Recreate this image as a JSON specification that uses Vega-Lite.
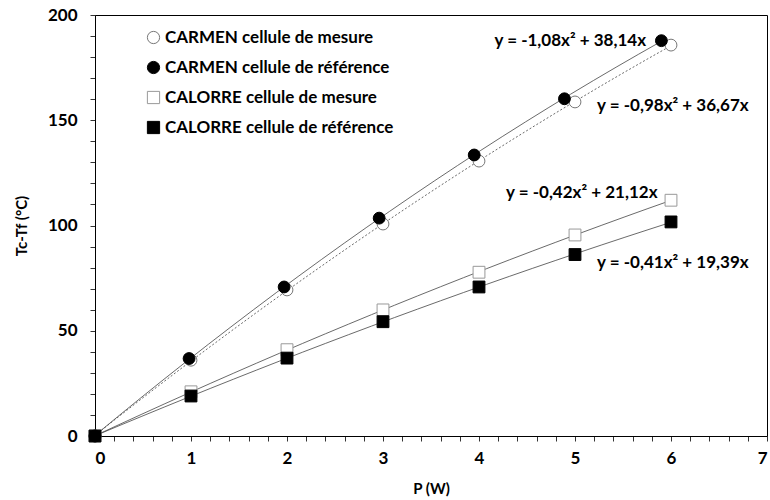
{
  "$schema": "https://vega.github.io/schema/vega-lite/v6.json",
  "width": 672,
  "height": 421,
  "autosize": "none",
  "padding": {"left": 95, "top": 15, "right": 3, "bottom": 64},
  "config": {
    "font": "Lato",
    "view": {"stroke": "black", "strokeWidth": 1},
    "axis": {
      "labelFont": "Lato", "labelFontWeight": "bold", "labelFontSize": 17, "labelColor": "black",
      "titleFont": "Lato", "titleFontWeight": "bold", "titleFontSize": 15, "titleColor": "black",
      "domainColor": "black", "tickColor": "#333", "grid": false, "labelOverlap": false
    },
    "legend": {
      "labelFont": "Lato", "labelFontWeight": "bold", "labelFontSize": 17, "labelColor": "black", "labelLimit": 400
    }
  },
  "datasets": {
    "pts": [
      {"P": 0, "T": 0, "series": "CARMEN cellule de mesure"},
      {"P": 1, "T": 36, "series": "CARMEN cellule de mesure"},
      {"P": 2, "T": 69.4, "series": "CARMEN cellule de mesure"},
      {"P": 3, "T": 100.7, "series": "CARMEN cellule de mesure"},
      {"P": 4, "T": 130.6, "series": "CARMEN cellule de mesure"},
      {"P": 5, "T": 158.7, "series": "CARMEN cellule de mesure"},
      {"P": 6, "T": 185.7, "series": "CARMEN cellule de mesure"},
      {"P": 0, "T": 0, "series": "CALORRE cellule de mesure"},
      {"P": 1, "T": 21, "series": "CALORRE cellule de mesure"},
      {"P": 2, "T": 41, "series": "CALORRE cellule de mesure"},
      {"P": 3, "T": 59.9, "series": "CALORRE cellule de mesure"},
      {"P": 4, "T": 77.8, "series": "CALORRE cellule de mesure"},
      {"P": 5, "T": 95.5, "series": "CALORRE cellule de mesure"},
      {"P": 6, "T": 112, "series": "CALORRE cellule de mesure"},
      {"P": 0, "T": 0, "series": "CALORRE cellule de référence"},
      {"P": 1, "T": 19, "series": "CALORRE cellule de référence"},
      {"P": 2, "T": 37, "series": "CALORRE cellule de référence"},
      {"P": 3, "T": 54.3, "series": "CALORRE cellule de référence"},
      {"P": 4, "T": 70.8, "series": "CALORRE cellule de référence"},
      {"P": 5, "T": 86.2, "series": "CALORRE cellule de référence"},
      {"P": 6, "T": 101.7, "series": "CALORRE cellule de référence"},
      {"P": 0, "T": 0, "series": "CARMEN cellule de référence"},
      {"P": 0.98, "T": 36.8, "series": "CARMEN cellule de référence"},
      {"P": 1.97, "T": 70.8, "series": "CARMEN cellule de référence"},
      {"P": 2.96, "T": 103.5, "series": "CARMEN cellule de référence"},
      {"P": 3.95, "T": 133.5, "series": "CARMEN cellule de référence"},
      {"P": 4.89, "T": 160.2, "series": "CARMEN cellule de référence"},
      {"P": 5.9, "T": 187.8, "series": "CARMEN cellule de référence"}
    ],
    "eqRight": [
      {"P": 5.74, "T": 187.6, "label": "y = -1,08x² + 38,14x"},
      {"P": 5.86, "T": 115.4, "label": "y = -0,42x² + 21,12x"}
    ],
    "eqLeft": [
      {"P": 5.23, "T": 156.8, "label": "y = -0,98x² + 36,67x"},
      {"P": 5.23, "T": 82.2, "label": "y = -0,41x² + 19,39x"}
    ]
  },
  "encoding": {
    "x": {
      "field": "P", "type": "quantitative",
      "scale": {"domain": [0, 7], "nice": false},
      "axis": {
        "title": "P (W)",
        "values": [0,0.2,0.4,0.6,0.8,1,1.2,1.4,1.6,1.8,2,2.2,2.4,2.6,2.8,3,3.2,3.4,3.6,3.8,4,4.2,4.4,4.6,4.8,5,5.2,5.4,5.6,5.8,6,6.2,6.4,6.6,6.8,7],
        "labelExpr": "datum.value % 1 === 0 ? format(datum.value, 'd') : ''",
        "labelOverlap": false,
        "labelBound": false,
        "tickSize": 5, "labelPadding": 9, "titlePadding": 15
      }
    },
    "y": {
      "field": "T", "type": "quantitative",
      "scale": {"domain": [0, 200], "nice": false},
      "axis": {
        "title": "Tc-Tf (°C)",
        "values": [0,10,20,30,40,50,60,70,80,90,100,110,120,130,140,150,160,170,180,190,200],
        "labelExpr": "datum.value % 50 === 0 ? format(datum.value, 'd') : ''",
        "labelOverlap": false,
        "labelBound": false,
        "tickSize": 5, "labelPadding": 13, "titlePadding": 18
      }
    }
  },
  "layer": [
    {
      "data": {"name": "pts"},
      "transform": [
        {"filter": "datum.series !== 'CARMEN cellule de mesure'"},
        {"regression": "T", "on": "P", "groupby": ["series"], "method": "poly", "order": 2}
      ],
      "mark": {"type": "line", "strokeWidth": 0.8, "color": "#444"},
      "encoding": {
        "detail": {"field": "series"}
      }
    },
    {
      "data": {"name": "pts"},
      "transform": [
        {"filter": "datum.series === 'CARMEN cellule de mesure'"},
        {"regression": "T", "on": "P", "method": "poly", "order": 2}
      ],
      "mark": {"type": "line", "strokeWidth": 0.8, "color": "#444", "strokeDash": [2, 2]},
      "encoding": {}
    },
    {
      "data": {"name": "pts"},
      "mark": {"type": "point", "filled": true, "size": 140, "strokeWidth": 1, "opacity": 1},
      "encoding": {
        "shape": {
          "field": "series", "type": "nominal", "title": null,
          "scale": {
            "domain": ["CARMEN cellule de mesure", "CARMEN cellule de référence", "CALORRE cellule de mesure", "CALORRE cellule de référence"],
            "range": ["circle", "circle", "square", "square"]
          },
          "legend": {"orient": "none", "legendX": 50, "legendY": 14, "rowPadding": 12, "symbolStrokeWidth": 1, "symbolSize": 150, "labelOffset": 3}
        },
        "fill": {
          "field": "series", "type": "nominal", "title": null,
          "scale": {
            "domain": ["CARMEN cellule de mesure", "CARMEN cellule de référence", "CALORRE cellule de mesure", "CALORRE cellule de référence"],
            "range": ["white", "black", "white", "black"]
          }
        },
        "stroke": {
          "field": "series", "type": "nominal", "title": null,
          "scale": {
            "domain": ["CARMEN cellule de mesure", "CARMEN cellule de référence", "CALORRE cellule de mesure", "CALORRE cellule de référence"],
            "range": ["#777", "black", "#999", "black"]
          }
        }
      }
    },
    {
      "data": {"name": "eqRight"},
      "mark": {"type": "text", "align": "right", "baseline": "middle", "fontWeight": "bold", "fontSize": 17, "font": "Lato", "color": "black"},
      "encoding": {
        "text": {"field": "label"}
      }
    },
    {
      "data": {"name": "eqLeft"},
      "mark": {"type": "text", "align": "left", "baseline": "middle", "fontWeight": "bold", "fontSize": 17, "font": "Lato", "color": "black"},
      "encoding": {
        "text": {"field": "label"}
      }
    }
  ]
}
